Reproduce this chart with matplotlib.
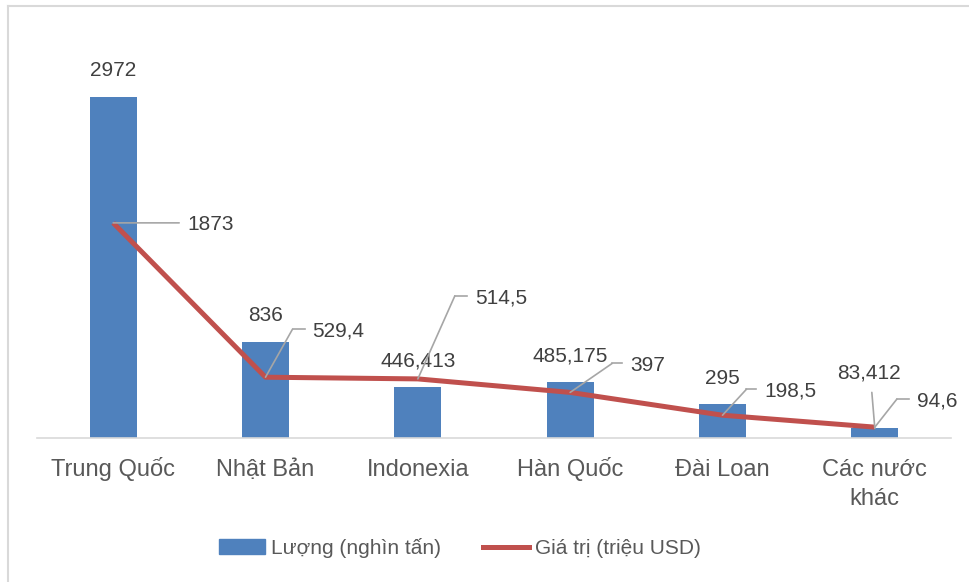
import matplotlib
matplotlib.use("Agg")
import matplotlib.pyplot as plt
from matplotlib.lines import Line2D

plt.rcParams['font.family'] = ['Liberation Sans', 'DejaVu Sans']

categories = ["Trung Quốc", "Nhật Bản", "Indonexia", "Hàn Quốc", "Đài Loan", "Các nước\nkhác"]
luong = [2972, 836, 446.413, 485.175, 295, 83.412]
luong_labels = ["2972", "836", "446,413", "485,175", "295", "83,412"]
gia_tri = [1873, 529.4, 514.5, 397, 198.5, 94.6]
gia_tri_labels = ["1873", "529,4", "514,5", "397", "198,5", "94,6"]

bar_color = "#4f81bd"
line_color = "#c0504d"
text_color = "#404040"
leader_color = "#a6a6a6"

# leader geometry for line labels, in pixels from the point: (elbow, end of leader)
leaders = [((66, 0), (66, 0)),
           ((27, 48), (39, 48)),
           ((37, 83), (49, 83)),
           ((42, 29), (52, 29)),
           ((24, 26), (34, 26)),
           ((22, 28), (34, 28))]

fig = plt.figure(figsize=(9.69, 5.82), dpi=100)
ax = fig.add_axes([37/969, 1 - 438/582, 914/969, 402/582])

x = list(range(len(categories)))
ax.bar(x, luong, width=0.31, color=bar_color, zorder=2)
ax.plot(x, gia_tri, color=line_color, lw=3.6, solid_capstyle='butt', zorder=3)

ax.set_xlim(-0.5, len(categories) - 0.5)
ax.set_ylim(0, 3500)
for s in ["top", "right", "left"]:
    ax.spines[s].set_visible(False)
ax.spines["bottom"].set_color("#d9d9d9")
ax.spines["bottom"].set_linewidth(1.2)
ax.set_yticks([])
ax.set_xticks([])

# category labels, aligned on the first line's baseline
for i, cat in enumerate(categories):
    lines = cat.split("\n")
    for k, ln in enumerate(lines):
        ax.annotate(ln, (i, 0), xytext=(0, -38 - 29 * k), textcoords='offset pixels',
                    ha='center', va='baseline', fontsize=17, color="#595959",
                    annotation_clip=False)

# bar value labels
for i, (v, lab) in enumerate(zip(luong, luong_labels)):
    if i == len(luong) - 1:
        ax.annotate(lab, (i, v), xytext=(-6, 55), textcoords='offset pixels',
                    ha='center', va='center', fontsize=15, color=text_color)
        ax.annotate("", (i, v), xytext=(-3, 36), textcoords='offset pixels',
                    arrowprops=dict(arrowstyle='-', color=leader_color, lw=1.2,
                                    shrinkA=0, shrinkB=0))
    else:
        ax.annotate(lab, (i, v), xytext=(0, 26), textcoords='offset pixels',
                    ha='center', va='center', fontsize=15, color=text_color)

# line value labels with leaders
inv = ax.transData.inverted()
for i, (v, lab) in enumerate(zip(gia_tri, gia_tri_labels)):
    (ex, ey), (tx, ty) = leaders[i]
    ax.annotate("", (i, v), xytext=(ex, ey), textcoords='offset pixels',
                arrowprops=dict(arrowstyle='-', color=leader_color, lw=1.2,
                                shrinkA=0, shrinkB=0), zorder=4)
    if (tx, ty) != (ex, ey):
        p0 = ax.transData.transform((i, v))
        a = inv.transform((p0[0] + ex, p0[1] + ey))
        b = inv.transform((p0[0] + tx, p0[1] + ty))
        ax.plot([a[0], b[0]], [a[1], b[1]], color=leader_color, lw=1.2, zorder=4)
    ax.annotate(lab, (i, v), xytext=(tx + 8, ty - 2), textcoords='offset pixels',
                ha='left', va='center', fontsize=15, color=text_color)

handles = [plt.Rectangle((0, 0), 1, 1, color=bar_color),
           Line2D([0], [0], color=line_color, lw=3.6)]
fig.legend(handles, ["Lượng (nghìn tấn)", "Giá trị (triệu USD)"],
           loc='center', bbox_to_anchor=(460/969, 1 - 548/582), ncol=2,
           frameon=False, fontsize=15, handlelength=2.2, handletextpad=0.3,
           columnspacing=2.0, labelcolor="#595959")

# chart frame
fig.add_artist(Line2D([8/969, 8/969], [0, 1 - 6/582], color="#d9d9d9", lw=1.5))
fig.add_artist(Line2D([8/969, 1], [1 - 6/582, 1 - 6/582], color="#d9d9d9", lw=1.5))

fig.savefig("out.png", dpi=100)
